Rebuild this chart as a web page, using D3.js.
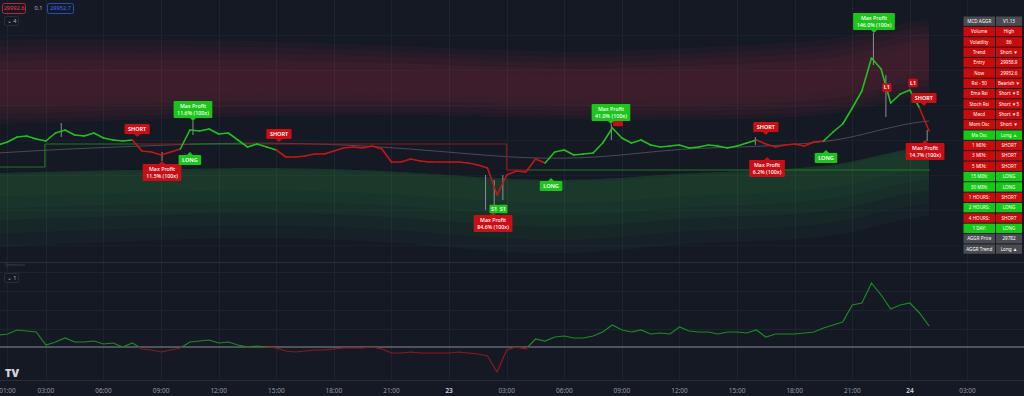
<!DOCTYPE html>
<html><head><meta charset="utf-8">
<script src="https://cdn.jsdelivr.net/npm/d3@7"></script>
<style>html,body{margin:0;padding:0;background:#151924;overflow:hidden}svg{display:block}</style>
</head><body><svg id="c" width="1024" height="396"></svg>
<script>
// ---------- DATA ----------
const baseTime = Date.UTC(2024, 0, 22, 0, 0);
const priceStartHour = 0.5, priceStepHours = 0.5;
const closes = [29930,29936,29946,29948,29942,29938,29954,29960,29950,29948,
  29954,29944,29940,29938,29940,29918,29916,29910,29916,29922,
  29960,29958,29962,29952,29954,29940,29926,29932,29926,29920,
  29906,29906,29908,29912,29912,29918,29924,29926,29924,29928,
  29922,29896,29896,29902,29898,29896,29896,29896,29896,29894,
  29890,29884,29830,29870,29878,29876,29902,29894,29916,29920,
  29910,29912,29914,29934,29964,29944,29934,29940,29930,29926,
  29928,29930,29924,29926,29930,29928,29924,29928,29934,29940,
  29932,29926,29930,29932,29928,29936,29938,29956,29972,30004,
  30038,30104,30082,30014,30032,30040,30004,29958];
const wickHours = [3.8, 9.05, 10.66, 25.9, 26.35, 26.8, 32.45, 39.95, 46.1, 46.75, 48.9];
const wickHigh  = [29974, 29916, 29978, 29870, 29860, 29870, 29972, 29946, 30154, 30070, 29960];
const wickLow   = [29946, 29898, 29950, 29800, 29794, 29820, 29940, 29930, 30090, 29986, 29938];
const oscValues = [12,13,17,16,15,2,5,9,5,5,6,3,4,0,4,-2,-3,-5,-3,-1,
  5,6,7,4,5,2,0,1,0,-1,-4,-5,-4,-3,-3,-2,-1,-1,-1,0,
  -2,-6,-6,-5,-6,-6,-6,-6,-5,-6,-7,-9,-25,-3,0,-2,8,6,10,11,
  9,9,11,15,22,17,15,17,13,14,13,20,16,15,15,13,15,15,14,17,
  10,13,13,13,14,15,19,22,25,42,44,64,52,38,42,44,34,21];
const signalHours = [7.75, 10.5, 15.14, 29.31, 40.5, 43.63, 48.73];
const signalSides = ['short','long','short','long','short','long','short'];

const bandHours = [0.5,4,8,12,16,20,24,28,32,36,40,44,46,48,49];
const basisLine = [29914,29922,29928,29934,29934,29928,29916,29902,29904,29924,29926,29936,29956,29974,29978];
const upperOuter = [30140,30142,30140,30140,30136,30130,30124,30118,30116,30124,30130,30140,30158,30176,30180];
const upperInner = [29972,29976,29980,29986,29988,29990,29990,29984,29980,29980,29982,29990,30008,30026,30030];
const lowerInner = [29874,29878,29880,29884,29884,29880,29870,29860,29860,29874,29878,29888,29906,29924,29928];
const lowerOuter = [29726,29732,29738,29744,29744,29738,29726,29712,29714,29734,29736,29746,29766,29784,29788];

const stopStart = [0.6, 2.95, 7.8, 10.5, 13.27, 27.0, 28.06];
const stopEnd   = [2.95, 7.8, 10.5, 13.27, 27.0, 28.06, 49.05];
const stopLevel = [29886, 29932, 29932, 29932, 29932, 29880, 29880];
const stopSide  = ['long','long','short','long','short','short','long'];

const labelTexts = ['SHORT','Max Profit\n11.5% (100x)','Max Profit\n11.6% (100x)','LONG','SHORT',
  'Max Profit\n84.6% (100x)','S1','S1','','Max Profit\n41.0% (100x)','LONG','SHORT',
  'Max Profit\n6.2% (100x)','LONG','Max Profit\n146.0% (100x)','L1','L1','SHORT','Max Profit\n14.7% (100x)'];
const labelHours = [7.75,9.05,10.66,10.5,15.14,26.29,26.34,26.8,32.8,32.43,29.31,40.5,40.56,43.63,46.13,46.8,48.16,48.73,48.79];
const labelPrices = [29946,29898,29978,29916,29936,29796,29802,29802,29976,29972,29864,29950,29906,29920,30154,30045,30054,30008,29940];
const labelKinds = ['above','below','above','below','above','below','center','center','center','above','below','above','below','below','above','center','center','above','below'];
const labelSides = ['short','short','long','long','short','short','long','long','short','long','long','short','short','long','long','short','short','short','short'];

const tickHours = [1,3,6,9,12,15,18,21,24,27,30,33,36,39,42,45,48,51];

const tableLabels = ['MCD AGGR','Volume','Volatility','Trend','Entry','Now','Rsi - 50','Ema Rsi','Stoch Rsi','Macd','Mom Osc','Ma Osc',
  '1 MIN:','3 MIN:','5 MIN:','15 MIN:','30 MIN:','1 HOURS:','2 HOURS:','4 HOURS:','1 DAY:','AGGR Price','AGGR Trend'];
const tableValues = ['V1.13','High','86','Short ▼','29958.9','29952.6','Bearish ▼','Short ▼8','Short ▼5','Short ▼8','Short ▼','Long ▲',
  'SHORT','SHORT','SHORT','LONG','LONG','SHORT','LONG','SHORT','LONG','29782','Long ▲'];
const tableStates = ['head','short','short','short','short','short','short','short','short','short','short','long',
  'short','short','short','long','long','short','long','short','long','head','head'];

const legendValues = ['29992.6','0.1','29952.7'];

// ---------- SCALES ----------
const T = h => new Date(baseTime + h*3600e3);
const svg = d3.select('#c');
const BG = '#151924';
const x = d3.scaleUtc().domain([T(0), T(72)]).range([-11.7, -11.7 + 72*19.2]);
const yP = d3.scaleLinear().domain([29696, 30220]).range([262, 0]);
const yO = d3.scaleLinear().domain([-33, 80]).range([380, 267]);
const priceHour = i => priceStartHour + i*priceStepHours;
const sideAt = h => { let s = 'long'; signalHours.forEach((t,i)=>{ if (t <= h + 1e-6) s = signalSides[i]; }); return s; };
const colLine = {long:'#1fc21f', short:'#c41717'};
const colLabel = {long:'#1cc41c', short:'#c90f16'};
const colTable = {long:'#17c917', short:'#c80c0c', head:'#4a4b50'};

svg.append('rect').attr('width',1024).attr('height',396).attr('fill',BG);

// grid
const grid = svg.append('g');
tickHours.forEach(h => {
  const gx = Math.round(x(T(h))) + 0.5;
  grid.append('line').attr('x1',gx).attr('x2',gx).attr('y1',0).attr('y2',380).attr('stroke','#1f2330');
});
[272,291,310,329].forEach(gy => grid.append('line').attr('x1',0).attr('x2',1024).attr('y1',gy+0.5).attr('y2',gy+0.5).attr('stroke','#1f2330'));
[35,70,105,140,175,210,245].forEach(gy => grid.append('line').attr('x1',0).attr('x2',1024).attr('y1',gy+0.5).attr('y2',gy+0.5).attr('stroke','#1b1f2b'));

// bands
const bandG = svg.append('g');
const bx = i => x(T(bandHours[i]));
const mix = (a,b,t) => a + (b-a)*t;
function bandLayer(outer, inner, t0, t1, color, op) {
  const area = d3.area().curve(d3.curveBasis)
    .x((d,i)=>bx(i))
    .y0((d,i)=>mix(yP(outer[i]), yP(inner[i]), t0))
    .y1((d,i)=>mix(yP(outer[i]), yP(inner[i]), t1));
  bandG.append('path').datum(bandHours).attr('d', area).attr('fill', color).attr('opacity', op);
}
const redSteps = [[0,1,0.05],[0.08,0.95,0.05],[0.16,0.88,0.05],[0.25,0.8,0.05],[0.35,0.7,0.04]];
redSteps.forEach(([a,b,o]) => bandLayer(upperOuter, upperInner, a, b, '#d8384f', o));
const greenSteps = [[0,1,0.05],[0,0.82,0.05],[0,0.64,0.05],[0,0.48,0.05],[0.03,0.32,0.045]];
greenSteps.forEach(([a,b,o]) => bandLayer(lowerInner, lowerOuter, a, b, '#44b050', o));

// basis line
svg.append('path').datum(basisLine)
  .attr('d', d3.line().curve(d3.curveBasis).x((d,i)=>bx(i)).y(d=>yP(d)))
  .attr('fill','none').attr('stroke','#6a6d78').attr('stroke-opacity',0.6).attr('stroke-width',1);

// stop lines
const stopG = svg.append('g');
stopStart.forEach((s,i) => {
  stopG.append('line').attr('x1',x(T(s))).attr('x2',x(T(stopEnd[i])))
    .attr('y1',yP(stopLevel[i])).attr('y2',yP(stopLevel[i]))
    .attr('stroke', stopSide[i]==='long' ? '#1f7a24' : '#8a1a1f').attr('stroke-width',1.2);
  if (i>0 && stopLevel[i] !== stopLevel[i-1]) {
    stopG.append('line').attr('x1',x(T(s))).attr('x2',x(T(s)))
      .attr('y1',yP(stopLevel[i-1])).attr('y2',yP(stopLevel[i]))
      .attr('stroke', stopSide[i-1]==='long' ? '#1f7a24' : '#8a1a1f').attr('stroke-width',1.2);
  }
});

// wicks
wickHours.forEach((h,i) => {
  svg.append('line').attr('x1',x(T(h))).attr('x2',x(T(h))).attr('y1',yP(wickHigh[i])).attr('y2',yP(wickLow[i]))
    .attr('stroke','#8d8f96').attr('stroke-width',1);
});

// price line
const priceG = svg.append('g');
for (let i=1;i<closes.length;i++) {
  const side = sideAt(priceHour(i));
  priceG.append('line')
    .attr('x1', x(T(priceHour(i-1)))).attr('y1', yP(closes[i-1]))
    .attr('x2', x(T(priceHour(i)))).attr('y2', yP(closes[i]))
    .attr('stroke', colLine[side]).attr('stroke-width',1.6).attr('stroke-linecap','round');
}

// labels
const labG = svg.append('g').style('font-family','"Noto Sans", sans-serif');
labelTexts.forEach((txt,i) => {
  const lines = txt.split('\n');
  const px = x(T(labelHours[i])), py = yP(labelPrices[i]);
  const g = labG.append('g');
  const fs = lines.length>1 ? 5.3 : 5.5;
  const tnodes = txt ? lines.map(l => g.append('text').text(l).attr('font-size',fs).attr('fill','#fff')
     .attr('font-weight', lines.length>1 ? 500 : 600).attr('text-anchor','middle')) : [];
  const mw = tnodes.length ? d3.max(tnodes, t => t.node().getComputedTextLength()) : 7;
  const small = txt.length <= 2;
  const bw = small ? mw + 3 : mw + 7;
  const bh = lines.length>1 ? 17 : (small ? 8.5 : 10);
  let by;
  if (labelKinds[i]==='above') by = py - 3 - bh;
  else if (labelKinds[i]==='below') by = py + 3;
  else by = py - bh/2;
  const c = colLabel[labelSides[i]];
  g.insert('rect','text').attr('x',px-bw/2).attr('y',by).attr('width',bw).attr('height',bh).attr('rx',1).attr('fill',c);
  if (labelKinds[i]==='above') g.insert('path','text').attr('d',`M${px-3},${by+bh}L${px+3},${by+bh}L${px},${py}Z`).attr('fill',c);
  if (labelKinds[i]==='below') g.insert('path','text').attr('d',`M${px-3},${by}L${px+3},${by}L${px},${py}Z`).attr('fill',c);
  const lh = 6.8;
  const top = by + bh/2 - (lines.length-1)*lh/2;
  tnodes.forEach((t,j) => t.attr('x',px).attr('y', top + j*lh).attr('dy','0.35em'));
});

// pane separator & axis
svg.append('line').attr('x1',0).attr('x2',1024).attr('y1',262.5).attr('y2',262.5).attr('stroke','#2a2e39');
svg.append('line').attr('x1',0).attr('x2',1024).attr('y1',380.5).attr('y2',380.5).attr('stroke','#2a2e39');

// oscillator
svg.append('line').attr('x1',0).attr('x2',1024).attr('y1',yO(0)).attr('y2',yO(0)).attr('stroke','#8a8d96').attr('stroke-width',1);
const defs = svg.append('defs');
defs.append('clipPath').attr('id','above').append('rect').attr('x',0).attr('y',263).attr('width',1024).attr('height',yO(0)-263);
defs.append('clipPath').attr('id','below').append('rect').attr('x',0).attr('y',yO(0)).attr('width',1024).attr('height',380-yO(0));
const oscLine = d3.line().x((d,i)=>x(T(priceHour(i)))).y(d=>yO(d));
svg.append('path').datum(oscValues).attr('d',oscLine).attr('fill','none').attr('stroke','#1a8c1f').attr('stroke-width',1.2).attr('clip-path','url(#above)');
svg.append('path').datum(oscValues).attr('d',oscLine).attr('fill','none').attr('stroke','#8c1a1f').attr('stroke-width',1.2).attr('clip-path','url(#below)');

// time axis
const fmt = d3.utcFormat('%H:%M');
const axisG = svg.append('g').style('font-family','"Noto Sans", sans-serif');
tickHours.forEach(h => {
  const d = T(h);
  const mid = d.getUTCHours()===0;
  axisG.append('text').attr('x', x(d)).attr('y', 391).attr('dy','0.35em').attr('text-anchor','middle')
    .attr('font-size', 6.5).attr('fill', mid ? '#d1d4dc' : '#9598a1').attr('font-weight', mid ? 600 : 400)
    .text(mid ? d3.utcFormat('%-d')(d) : fmt(d));
});

// TV logo
svg.append('text').attr('x',5).attr('y',377).attr('font-family','"Noto Sans", sans-serif').attr('font-weight',900)
  .attr('font-size',11).attr('fill','#d1d4dc').text('TV');

// legend top-left
const lg = svg.append('g').style('font-family','"Noto Sans", sans-serif').attr('font-size',5.6);
lg.append('rect').attr('x',2.5).attr('y',3.5).attr('width',23).attr('height',10).attr('rx',2).attr('fill','none').attr('stroke','#b22833');
lg.append('text').attr('x',14).attr('y',8.5).attr('dy','0.35em').attr('text-anchor','middle').attr('fill','#f23645').text(legendValues[0]);
lg.append('text').attr('x',38.5).attr('y',8.5).attr('dy','0.35em').attr('text-anchor','middle').attr('fill','#b2b5be').text(legendValues[1]);
lg.append('rect').attr('x',47.5).attr('y',3.5).attr('width',26).attr('height',10).attr('rx',2).attr('fill','none').attr('stroke','#2a4db0');
lg.append('text').attr('x',60.5).attr('y',8.5).attr('dy','0.35em').attr('text-anchor','middle').attr('fill','#3d6cf5').text(legendValues[2]);
function paneTag(xx,yy,txt){
  lg.append('rect').attr('x',xx).attr('y',yy).attr('width',14).attr('height',9).attr('rx',2).attr('fill','#151924').attr('stroke','#2a2e39');
  lg.append('text').attr('x',xx+7).attr('y',yy+4.5).attr('dy','0.35em').attr('text-anchor','middle').attr('fill','#b2b5be').text('⌄ '+txt);
}
paneTag(4.5,16.5,'4');
paneTag(4.5,273.5,'1');
lg.append('text').attr('x',5).attr('y',265).attr('dy','0.35em').attr('font-size',3.5).attr('fill','#4a4e5a').text('Symmetrain');

// table
const tg = svg.append('g').style('font-family','"Noto Sans", sans-serif');
const rowH = 10.36, top0 = 16.5, c1x = 963.5, c1w = 31.5, c2x = 996, c2w = 26;
tableLabels.forEach((l,i) => {
  const yy = top0 + i*rowH;
  const c = colTable[tableStates[i]];
  tg.append('rect').attr('x',c1x).attr('y',yy).attr('width',c1w).attr('height',rowH-1).attr('fill',c);
  tg.append('rect').attr('x',c2x).attr('y',yy).attr('width',c2w).attr('height',rowH-1).attr('fill',c);
  tg.append('text').attr('x',c1x+c1w/2).attr('y',yy+(rowH-1)/2).attr('dy','0.35em').attr('text-anchor','middle')
    .attr('font-size',4.6).attr('fill','#fff').text(l);
  tg.append('text').attr('x',c2x+c2w/2).attr('y',yy+(rowH-1)/2).attr('dy','0.35em').attr('text-anchor','middle')
    .attr('font-size',4.6).attr('fill','#fff').text(tableValues[i]);
});
</script></body></html>
